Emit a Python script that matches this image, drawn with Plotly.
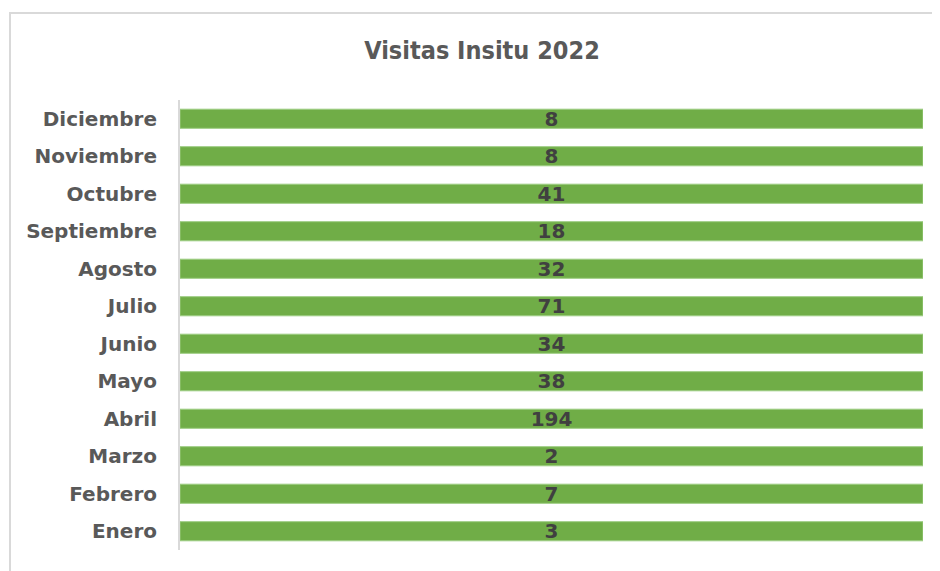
import plotly.graph_objects as go

months = ["Enero", "Febrero", "Marzo", "Abril", "Mayo", "Junio", "Julio",
          "Agosto", "Septiembre", "Octubre", "Noviembre", "Diciembre"]
visitas = [3, 7, 2, 194, 38, 34, 71, 32, 18, 41, 8, 8]
title = "Visitas Insitu 2022"

# 100% stacked bar with a single series: each bar is its share of its own row total
share = [v / v for v in visitas]

# page body has an 8px margin; work in screen coordinates and shift
OFF = 8
W, H = 940 - OFF, 571 - OFF
L, R, T, B = 180 - OFF, 940 - 923, 100 - OFF, 571 - 550
pw, ph = W - L - R, H - T - B

fig = go.Figure(go.Bar(
    y=months, x=share, orientation="h",
    text=["<b>" + str(v) + "</b>" for v in visitas],
    textposition="inside", insidetextanchor="middle", textangle=0,
    constraintext="none",
    textfont=dict(family="DejaVu Sans", size=20, color="#404040"),
    marker=dict(color="#70ad47", line=dict(color="#9ccc80", width=1)),
    width=0.51, hoverinfo="skip",
))

fig.update_layout(
    width=W, height=H,
    margin=dict(l=L, r=R, t=T, b=B),
    paper_bgcolor="white", plot_bgcolor="white",
    showlegend=False,
    title=dict(text="<b>" + title + "</b>", x=(482 - 180) / pw, xref="paper", xanchor="center",
               y=1 - (50 - OFF) / H, yanchor="middle",
               font=dict(family="DejaVu Sans Condensed", size=25, color="#595959")),
    xaxis=dict(range=[0, 1], visible=False, fixedrange=True),
    yaxis=dict(type="category", showgrid=False, zeroline=False,
               showline=True, linecolor="#d9d9d9", linewidth=2,
               ticks="", ticklabelstandoff=17,
               tickfont=dict(family="DejaVu Sans", size=20, color="#595959"),
               range=[-0.5, 11.5]),
    shapes=[dict(type="rect", xref="paper", yref="paper",
                 x0=(10 - 180) / pw, x1=1.2, y0=-0.3, y1=1 + (100 - 13) / ph,
                 line=dict(color="#d9d9d9", width=2), fillcolor="rgba(0,0,0,0)",
                 layer="below")],
)
fig.update_yaxes(tickprefix="<b>", ticksuffix="</b>")

fig.write_html("out.html")
